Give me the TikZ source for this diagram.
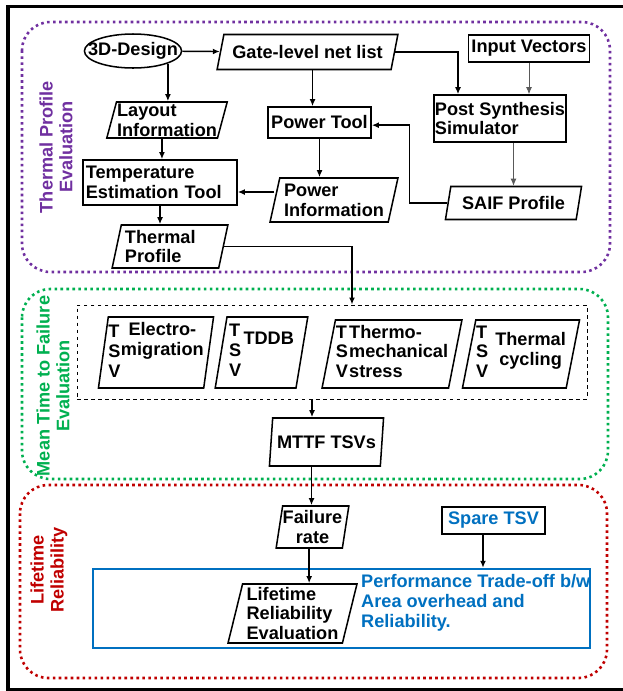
\documentclass[tikz,border=0pt]{standalone}
\usepackage{fontspec}
\setmainfont{Liberation Sans}
\usepackage{tikz}
\usetikzlibrary{shapes.geometric,arrows.meta}

\definecolor{thermpurple}{RGB}{112,48,160}
\definecolor{mttfgreen}{RGB}{0,176,80}
\definecolor{lifered}{RGB}{192,0,0}
\definecolor{tradeblue}{RGB}{0,112,192}

\tikzset{sz/.style 2 args={minimum width=#1cm,minimum height=#2cm},
  lean/.style 2 args={trapezium left angle=#1,trapezium right angle=#2}}

\newcommand{\tsvlbl}[4][c]{\begin{tabular}[b]{@{}l@{}}T\\S\\V\end{tabular}\hspace{#3}\raisebox{#2}{\begin{tabular}[b]{@{}#1@{}}#4\end{tabular}}}

\begin{document}
\begin{tikzpicture}[x=0.03cm,y=-0.03cm,
    font=\fontsize{15.5}{17}\selectfont\bfseries]
            \tikzstyle{box}=[draw,line width=1.3pt,inner sep=0.5pt]
            \tikzstyle{para}=[box,trapezium,lean={75}{105},trapezium stretches=true]
            \tikzstyle{arr}=[line width=1.2pt,-{Latex[length=6pt,width=5pt]}]
            \tikzstyle{thinarr}=[line width=0.7pt,black!65,-{Latex[length=6pt,width=5pt]}]
            \tikzstyle{grp}=[line width=2.2pt,dash pattern=on 2.2pt off 2.9pt,rounded corners=0.85cm]
            \tikzstyle{grplbl}=[rotate=90,align=center]
            \useasboundingbox (0,0) rectangle (623,691);
            \draw[line width=3pt] (623,6.5) -| (8,689.5) -- (623,689.5);

            \draw[grp,thermpurple] (22,22) rectangle (610,272);
            \draw[grp,mttfgreen] (22,289) rectangle (608,479);
            \draw[grp,lifered] (20,485) rectangle (607,678);
            \node[grplbl,text=thermpurple] (thlbl) at (56,147) {Thermal Profile\\Evaluation};
            \node[grplbl,text=mttfgreen] (mtlbl) at (53,386) {Mean Time to Failure\\Evaluation};
            \node[grplbl,text=lifered] (lflbl) at (49,570) {Lifetime\\Reliability};

            \node[box,ellipse,inner xsep=-9pt,inner ysep=0pt,sz={2.79}{1.02}] (dd) at (133,51) {3D-Design};
            \node[para,lean={67}{113},sz={5.43}{1.05}] (gate) at (307.5,52) {Gate-level net list};
            \node[box,sz={3.63}{0.81}] (inv) at (529,48.5) {Input Vectors};
            \node[para,lean={74}{106},sz={3.57}{1.08},align=left] (lay) at (167,120) {Layout\\Information};
            \node[box,sz={3.09}{0.93}] (pt) at (319.5,122.5) {Power Tool};
            \node[box,sz={3.96}{1.41},align=left] (pss) at (500,118.5) {Post Synthesis\\Simulator};
            \node[box,sz={4.62}{1.35},text width=4.45cm,align=left] (tet) at (160,182.5) {Temperature\\Estimation Tool};
            \node[para,sz={3.84}{1.32},align=left] (pinf) at (334,200) {Power\\Information};
            \node[para,lean={73}{107},sz={4.11}{0.99}] (saif) at (513.5,203) {SAIF Profile};
            \node[para,lean={76}{104},sz={3.48}{1.29},text width=2.7cm,align=left] (tp) at (170,246.5) {Thermal\\Profile};

            \node[draw,dashed,line width=0.8pt,sz={15.3}{2.82}] (tsvbox) at (332,352) {};
            \node[para,inner sep=0pt,lean={81}{99},sz={3.42}{2.13}] (em) at (156,352.5) {\tsvlbl{19pt}{0.5pt}{Electro-\\migration}};
            \node[para,inner sep=0pt,lean={79.5}{100.5},sz={2.79}{2.13}] (tddb) at (261.5,352.5) {\tsvlbl{27pt}{2pt}{TDDB}};
            \node[para,inner sep=0pt,lean={77.5}{102.5},sz={4.2}{2.04}] (tms) at (392,354) {\tsvlbl[l]{0pt}{1pt}{Thermo-\\mechanical\\stress}};
            \node[para,inner sep=0pt,lean={77.5}{102.5},sz={3.54}{2.04}] (tc) at (521,354) {\tsvlbl{11pt}{6pt}{Thermal\\cycling}};
            \node[para,inner sep=0pt,lean={77}{103},sz={3.45}{1.44}] (mttf) at (326.5,442) {MTTF TSVs};

            \node[para,inner sep=0pt,lean={79}{101},sz={2.19}{1.26},align=center] (fr) at (312.5,527) {Failure\\rate};
            \node[box,text=tradeblue,sz={3.09}{0.81}] (spare) at (493.5,520.5) {Spare TSV};
            \node[draw=tradeblue,line width=2pt,sz={14.91}{2.37}] (tradebox) at (341.5,608.5) {};
            \node[para,lean={76}{104},sz={3.87}{1.77},align=left] (lre) at (292.5,613.5) {Lifetime\\Reliability\\Evaluation};
            \node[text=tradeblue,inner sep=0pt,anchor=west,align=left] (perf) at (361,602.5) {Performance Trade-off b/w\\Area overhead and\\Reliability.};

            \draw[arr] (dd) -- (gate);
            \draw[arr] (dd.south east) -- (dd.south east |- lay.north);
            \draw[arr] ([xshift=0.15cm]gate.south) -- ([xshift=0.15cm]gate.south |- pt.north);
            \draw[arr] (gate.east) -| ([xshift=-1.26cm]pss.north);
            \draw[thinarr] (inv.south) -- (inv.south |- pss.north);
            \draw[thinarr] (saif.north |- pss.south) -- (saif.north);
            \draw[arr] (saif.west) -- ++(-38,0) |- ([yshift=-0.08cm]pt.east);
            \draw[arr] (pt.south) -- (pt.south |- pinf.north);
            \draw[arr] ([yshift=0.24cm]pinf.west) -- ([yshift=0.24cm]pinf.west -| tet.east);
            \draw[arr] (lay.bottom side) -- (lay.bottom side |- tet.north);
            \draw[arr] (tet.south) -- (tet.south |- tp.north);
            \draw[arr] (tp.east) -| ([xshift=0.6cm]tsvbox.north);
            \draw[arr] ([xshift=-0.6cm]tsvbox.south) -- ([xshift=-0.6cm]tsvbox.south |- mttf.north);
            \draw[arr] ([xshift=-0.45cm]mttf.south) -- ([xshift=-0.45cm]mttf.south |- fr.north);
            \draw[arr] (fr.bottom side) -- (fr.bottom side |- lre.north);
            \draw[arr] ([xshift=-0.315cm]spare.south) -- ([xshift=-0.315cm]spare.south |- tradebox.north);
        \end{tikzpicture}
\end{document}
